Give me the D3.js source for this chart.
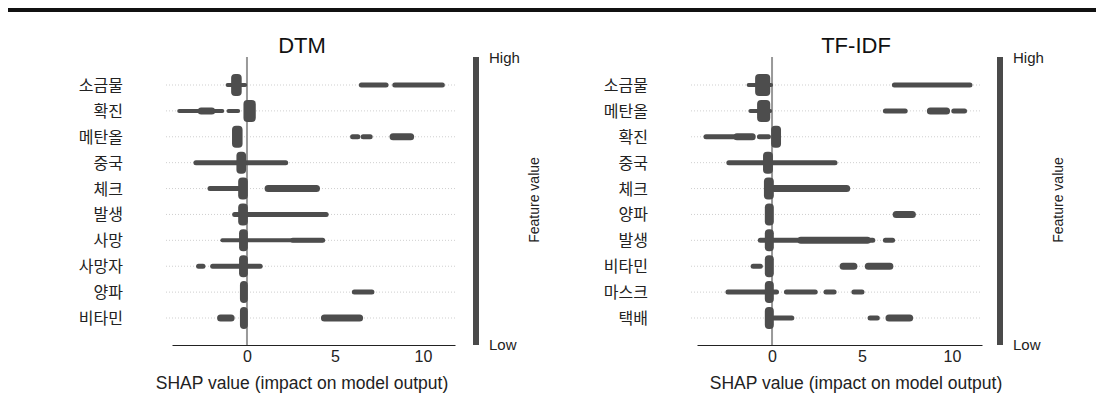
<!DOCTYPE html>
<html>
<head>
<meta charset="utf-8">
<script src="https://cdn.jsdelivr.net/npm/d3@7"></script>
<style>
  html, body { margin: 0; padding: 0; background: #fff; }
  svg { display: block; font-family: "Liberation Sans", "Noto Sans CJK KR", sans-serif; }
</style>
</head>
<body>
<svg id="chart" width="1099" height="403"></svg>
<script>
// Data
const dtmFeatures = ["소금물", "확진", "메탄올", "중국", "체크", "발생", "사망", "사망자", "양파", "비타민"];
// dense cluster near zero for each row: [from, to]
const dtmCore = [[-0.9, -0.3], [-0.2, 0.5], [-0.85, -0.25], [-0.6, -0.05], [-0.5, 0.05],
                 [-0.5, 0.05], [-0.45, 0.05], [-0.45, 0.05], [-0.4, 0.05], [-0.4, 0.05]];
// spread of points: [row, from, to, density 1..3]
const dtmSpread = [
    [0, -1.1, -0.1, 1], [0, 6.5, 7.9, 2], [0, 8.4, 11.1, 2],
    [1, -3.85, -1.4, 1], [1, -2.6, -2.0, 3], [1, -1.05, -0.5, 1],
    [2, 6.0, 6.3, 2], [2, 6.6, 7.0, 2], [2, 8.3, 9.3, 3],
    [3, -2.9, 2.2, 2],
    [4, -2.1, -0.4, 2], [4, 1.2, 3.95, 3],
    [5, -0.7, 4.5, 2],
    [6, -1.4, 4.3, 1], [6, 2.6, 4.3, 2],
    [7, -2.75, -2.5, 2], [7, -1.95, 0.75, 2],
    [8, 6.1, 7.1, 2],
    [9, -1.5, -0.9, 3], [9, 4.4, 6.4, 3]
];

const tfidfFeatures = ["소금물", "메탄올", "확진", "중국", "체크", "양파", "발생", "비타민", "마스크", "택배"];
const tfidfCore = [[-0.94, -0.1], [-0.83, -0.1], [-0.05, 0.5], [-0.5, 0.05], [-0.45, 0.1],
                   [-0.4, 0.1], [-0.4, 0.1], [-0.4, 0.1], [-0.4, 0.1], [-0.4, 0.1]];
const tfidfSpread = [
    [0, -1.3, -0.05, 1], [0, 6.8, 11.0, 2],
    [1, -1.2, -0.1, 1], [1, 6.3, 7.4, 2], [1, 8.8, 9.7, 3], [1, 10.1, 10.7, 2],
    [2, -3.67, -1.1, 2], [2, -1.95, -1.1, 3], [2, -0.7, -0.2, 2],
    [3, -2.4, 3.5, 2],
    [4, 0.1, 4.15, 3],
    [5, 6.9, 7.8, 3],
    [6, -0.65, 5.6, 2], [6, 1.6, 5.3, 3], [6, 6.3, 6.7, 2],
    [7, -1.05, -0.65, 2], [7, 3.95, 4.55, 3], [7, 5.35, 6.55, 3],
    [8, -2.45, 0.25, 2], [8, 0.8, 2.4, 2], [8, 3.0, 3.45, 2], [8, 4.55, 5.0, 2],
    [9, 0.1, 1.1, 2], [9, 5.45, 5.85, 2], [9, 6.5, 7.65, 3]
];

const tickValues = [0, 5, 10];
const panelTitles = ["DTM", "TF-IDF"];
const axisTitle = "SHAP value (impact on model output)";
const legendLabels = ["High", "Low", "Feature value"];

const markColor = "#4d4d4d";
const thickness = { 1: 4, 2: 5, 3: 7 };

const svg = d3.select("#chart");

// top rule
svg.append("rect").attr("x", 8).attr("y", 8).attr("width", 1088).attr("height", 4).attr("fill", "#111");

function drawPanel(opt) {
    const g = svg.append("g");
    const x = d3.scaleLinear().domain(opt.domain).range(opt.range);
    const y = d3.scalePoint().domain(d3.range(opt.features.length)).range([85, 318]);
    const axisY = 345;

    g.append("text")
        .attr("x", opt.titleX).attr("y", 53)
        .attr("text-anchor", "middle")
        .attr("font-size", 22).attr("fill", "#111")
        .text(opt.title);

    // dotted row guides
    g.selectAll("line.grid")
        .data(opt.features)
        .enter().append("line")
        .attr("x1", opt.range[0] - 6).attr("x2", opt.range[1])
        .attr("y1", (d, i) => y(i)).attr("y2", (d, i) => y(i))
        .attr("stroke", "#cfcfcf").attr("stroke-width", 1)
        .attr("stroke-dasharray", "1,2");

    // zero line
    g.append("line")
        .attr("x1", x(0)).attr("x2", x(0))
        .attr("y1", 57).attr("y2", axisY)
        .attr("stroke", "#999").attr("stroke-width", 2);

    // feature labels
    g.selectAll("text.feat")
        .data(opt.features)
        .enter().append("text")
        .attr("x", opt.labelX).attr("y", (d, i) => y(i) + 6)
        .attr("text-anchor", "end")
        .attr("font-size", 16).attr("fill", "#222")
        .text(d => d);

    // spread of points
    g.selectAll("rect.spread")
        .data(opt.spread)
        .enter().append("rect")
        .attr("x", d => x(d[1]) - thickness[d[3]] / 2)
        .attr("y", d => y(d[0]) - thickness[d[3]] / 2)
        .attr("width", d => x(d[2]) - x(d[1]) + thickness[d[3]])
        .attr("height", d => thickness[d[3]])
        .attr("rx", d => thickness[d[3]] / 2)
        .attr("fill", markColor);

    // dense cores
    g.selectAll("rect.core")
        .data(opt.core)
        .enter().append("rect")
        .attr("x", d => x(d[0]))
        .attr("y", (d, i) => y(i) - 11)
        .attr("width", d => x(d[1]) - x(d[0]))
        .attr("height", 22)
        .attr("rx", 4)
        .attr("fill", markColor);

    // x axis
    const ax = g.append("g")
        .attr("transform", `translate(0,${axisY})`)
        .call(d3.axisBottom(x).tickValues(tickValues).tickSize(0).tickPadding(6).tickSizeOuter(0));
    ax.select(".domain").attr("stroke", "#222");
    ax.selectAll("text").attr("font-size", 16).attr("fill", "#222")
        .attr("font-family", "Liberation Sans, sans-serif");

    g.append("text")
        .attr("x", opt.titleX).attr("y", 389)
        .attr("text-anchor", "middle")
        .attr("font-size", 17.5).attr("fill", "#222")
        .text(axisTitle);

    // colour bar
    g.append("rect")
        .attr("x", opt.barX).attr("y", 57)
        .attr("width", 6).attr("height", axisY - 57)
        .attr("fill", "#4a4a4a");
    g.append("text").attr("x", opt.barX + 16).attr("y", 63)
        .attr("font-size", 15).attr("fill", "#222").text(legendLabels[0]);
    g.append("text").attr("x", opt.barX + 16).attr("y", 350)
        .attr("font-size", 15).attr("fill", "#222").text(legendLabels[1]);
    g.append("text")
        .attr("transform", `translate(${opt.barX + 66},200) rotate(-90)`)
        .attr("text-anchor", "middle")
        .attr("font-size", 14).attr("fill", "#222")
        .text(legendLabels[2]);
}

drawPanel({
    title: panelTitles[0], features: dtmFeatures, core: dtmCore, spread: dtmSpread,
    domain: [-4.26, 11.82], range: [172, 455], labelX: 123, titleX: 302, barX: 473
});
drawPanel({
    title: panelTitles[1], features: tfidfFeatures, core: tfidfCore, spread: tfidfSpread,
    domain: [-4.17, 11.67], range: [697, 982], labelX: 648, titleX: 856, barX: 997
});
</script>
</body>
</html>
